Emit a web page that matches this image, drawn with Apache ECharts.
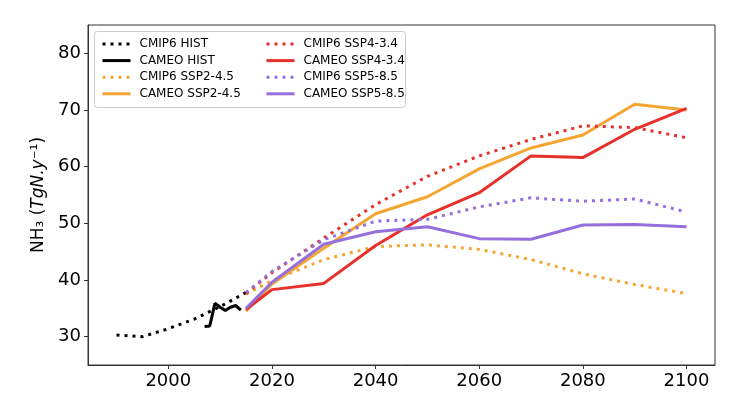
<!DOCTYPE html>
<html>
<head>
<meta charset="utf-8">
<script src="https://cdn.jsdelivr.net/npm/echarts@6/dist/echarts.min.js"></script>
<style>
  html, body { margin: 0; padding: 0; background: #fff; }
  #chart { width: 750px; height: 415px; }
</style>
</head>
<body>
<div id="chart"></div>
<script>
// --- data ---
const histYears = [1990, 1995, 2000, 2005, 2010, 2015];
const cmip6Hist = [30.3, 30.0, 31.4, 33.1, 35.3, 37.8];

const cameoHistYears = [2007, 2008, 2009, 2010, 2011, 2012, 2013, 2014];
const cameoHist = [31.8, 31.9, 35.9, 35.2, 34.6, 35.2, 35.5, 34.7];

const sspYears = [2015, 2020, 2030, 2040, 2050, 2060, 2070, 2080, 2090, 2100];
const cmip6Ssp245 = [37.5, 39.9, 43.6, 45.9, 46.2, 45.4, 43.6, 41.1, 39.2, 37.6];
const cameoSsp245 = [34.5, 39.3, 45.6, 51.7, 54.7, 59.6, 63.3, 65.6, 71.0, 70.0];
const cmip6Ssp434 = [37.6, 41.3, 47.4, 53.3, 58.3, 61.9, 64.8, 67.2, 66.9, 65.1];
const cameoSsp434 = [34.8, 38.3, 39.4, 46.1, 51.5, 55.4, 61.9, 61.6, 66.6, 70.3];
const cmip6Ssp585 = [37.8, 41.5, 47.1, 50.4, 50.7, 52.9, 54.5, 53.9, 54.3, 52.0];
const cameoSsp585 = [35.0, 39.6, 46.3, 48.5, 49.4, 47.3, 47.2, 49.7, 49.8, 49.4];

const xTicks = [2000, 2020, 2040, 2060, 2080, 2100];
const yTicks = [30, 40, 50, 60, 70, 80];

const legendLeft = ['CMIP6 HIST', 'CAMEO HIST', 'CMIP6 SSP2-4.5', 'CAMEO SSP2-4.5'];
const legendRight = ['CMIP6 SSP4-3.4', 'CAMEO SSP4-3.4', 'CMIP6 SSP5-8.5', 'CAMEO SSP5-8.5'];

const BLACK = '#000000';
const ORANGE = '#f5a532';
const RED = '#e8302a';
const PURPLE = '#9370db';
const DOT = [3, 5];

const pairs = (xs, ys) => xs.map((x, i) => [x, ys[i]]);

// one line series, dotted or solid
const line = (name, xs, ys, color, dotted) => ({
  name,
  type: 'line',
  data: pairs(xs, ys),
  symbol: 'none',
  animation: false,
  lineStyle: { color, width: 3, type: dotted ? DOT : 'solid', cap: 'butt' },
  itemStyle: { color }
});

const legendBox = (left, names) => ({
  orient: 'vertical',
  left,
  top: 33,
  itemWidth: 28,
  itemHeight: 14,
  itemGap: 4.6,
  z: 110,
  data: names,
  itemStyle: { opacity: 0 },
  lineStyle: { width: 3 },
  textStyle: { fontFamily: 'DejaVu Sans', fontSize: 12, color: '#000', padding: [0, 0, 0, 4] }
});

const chart = echarts.init(document.getElementById('chart'));

chart.setOption({
  backgroundColor: '#fff',
  grid: { left: 88, right: 35, top: 25, bottom: 50, show: true, borderColor: '#333', borderWidth: 1 },
  graphic: [{
    type: 'rect',
    shape: { x: 94.5, y: 31.5, width: 311, height: 76, r: 3 },
    style: { fill: 'rgba(255,255,255,0.8)', stroke: '#cccccc', lineWidth: 1 },
    z: 100
  }],
  legend: [legendBox(96, legendLeft), legendBox(260, legendRight)],
  xAxis: {
    type: 'value',
    min: 1984.5,
    max: 2105.5,
    splitLine: { show: false },
    axisLine: { show: true, onZero: false, lineStyle: { color: '#333' } },
    axisTick: { show: true, length: 4, lineStyle: { color: '#333' }, customValues: xTicks },
    axisLabel: { fontFamily: 'DejaVu Sans', fontSize: 18, color: '#000', margin: 7,
      customValues: xTicks, formatter: v => String(v) }
  },
  yAxis: {
    type: 'value',
    min: 25,
    max: 85,
    name: '{a|NH₃ (}{i|TgN.y}{a|⁻¹)}',
    nameLocation: 'middle',
    nameRotate: 90,
    nameGap: 30,
    nameTextStyle: {
      rich: {
        a: { fontFamily: 'DejaVu Sans', fontSize: 17, color: '#000' },
        i: { fontFamily: 'DejaVu Sans', fontSize: 17, fontStyle: 'italic', color: '#000' }
      }
    },
    splitLine: { show: false },
    axisLine: { show: true, lineStyle: { color: '#333' } },
    axisTick: { show: true, length: 4, lineStyle: { color: '#333' }, customValues: yTicks },
    axisLabel: { fontFamily: 'DejaVu Sans', fontSize: 18, color: '#000', margin: 7,
      customValues: yTicks, formatter: v => String(v) }
  },
  series: [
    line('CMIP6 HIST', histYears, cmip6Hist, BLACK, true),
    line('CAMEO HIST', cameoHistYears, cameoHist, BLACK, false),
    line('CMIP6 SSP2-4.5', sspYears, cmip6Ssp245, ORANGE, true),
    line('CAMEO SSP2-4.5', sspYears, cameoSsp245, ORANGE, false),
    line('CMIP6 SSP4-3.4', sspYears, cmip6Ssp434, RED, true),
    line('CAMEO SSP4-3.4', sspYears, cameoSsp434, RED, false),
    line('CMIP6 SSP5-8.5', sspYears, cmip6Ssp585, PURPLE, true),
    line('CAMEO SSP5-8.5', sspYears, cameoSsp585, PURPLE, false)
  ]
});
</script>
</body>
</html>
